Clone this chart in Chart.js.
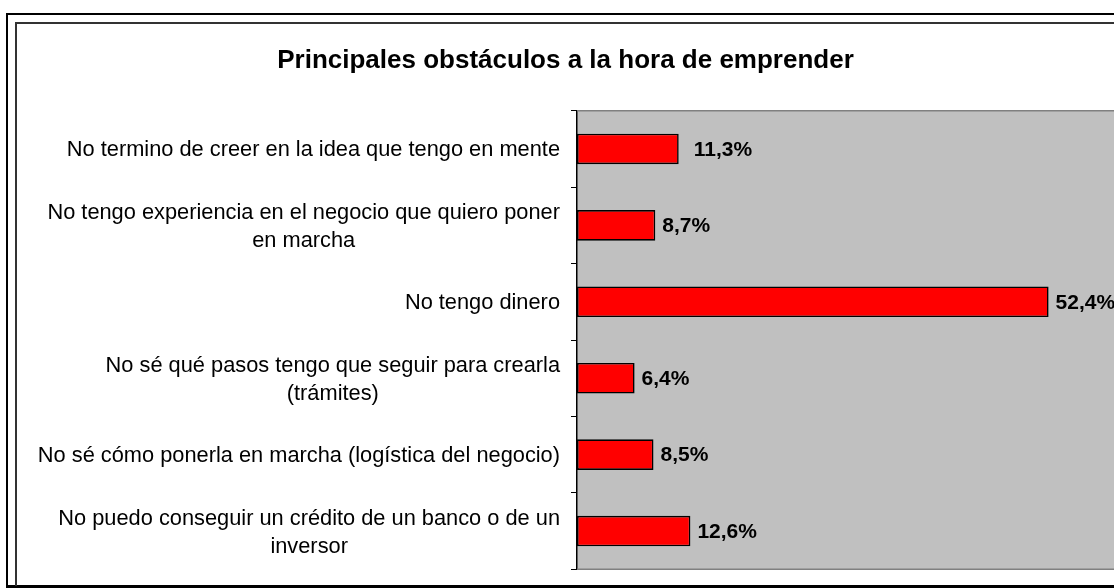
<!DOCTYPE html>
<html>
<head>
<meta charset="utf-8">
<script src="https://cdn.jsdelivr.net/npm/chart.js@4/dist/chart.umd.min.js"></script>
<style>
html,body{margin:0;padding:0;overflow:hidden;background:#fff;width:1114px;height:588px}
#wrap{position:absolute;left:0;top:0;width:1117px;height:588px}
</style>
</head>
<body>
<div id="wrap"><canvas id="c" width="1117" height="588"></canvas></div>
<script>
// ---- data ----
const titleText = 'Principales obstáculos a la hora de emprender';
const categories = [
  ['No termino de creer en la idea que tengo en mente'],
  ['No tengo experiencia en el negocio que quiero poner', 'en marcha'],
  ['No tengo dinero'],
  ['No sé qué pasos tengo que seguir para crearla', '(trámites)'],
  ['No sé cómo ponerla en marcha (logística del negocio)'],
  ['No puedo conseguir un crédito de un banco o de un', 'inversor']
];
const values = [11.3, 8.7, 52.4, 6.4, 8.5, 12.6];
const valueLabels = ['11,3%', '8,7%', '52,4%', '6,4%', '8,5%', '12,6%'];
const xMin = 0, xMax = 60;

// ---- style ----
const FONT = '"Liberation Sans", Arial, sans-serif';
const labelGap = [15, 7, 7, 7, 7, 7];

const decor = {
  id: 'decor',
  beforeDraw(chart) {
    const {ctx, chartArea: a} = chart;
    ctx.save();
    ctx.fillStyle = '#fff';
    ctx.fillRect(0, 0, chart.width, chart.height);
    ctx.fillStyle = '#C0C0C0';
    ctx.fillRect(a.left, a.top, a.right - a.left, a.bottom - a.top);
    ctx.restore();
  },
  afterDatasetsDraw(chart) {
    const {ctx, chartArea: a} = chart;
    ctx.save();
    ctx.strokeStyle = '#808080';
    ctx.lineWidth = 1.5;
    ctx.beginPath();
    ctx.moveTo(a.left, a.top); ctx.lineTo(a.right, a.top);
    ctx.moveTo(a.left, a.bottom); ctx.lineTo(a.right, a.bottom);
    ctx.stroke();
    ctx.restore();
  },
  afterDraw(chart) {
    const {ctx} = chart;
    const ys = chart.scales.y, xs = chart.scales.x;
    const meta = chart.getDatasetMeta(0);
    ctx.save();
    // category labels
    ctx.fillStyle = '#000';
    ctx.font = '21.8px ' + FONT;
    ctx.textBaseline = 'middle';
    ctx.textAlign = 'center';
    const lh = 28;
    const rightEdge = ys.right - 17;
    categories.forEach((lines, i) => {
      const cy = ys.getPixelForValue(i) + 1.5;
      const w = Math.max(...lines.map(l => ctx.measureText(l).width));
      const cx = rightEdge - w / 2;
      const y0 = cy - (lines.length - 1) * lh / 2;
      lines.forEach((l, k) => ctx.fillText(l, cx, y0 + k * lh));
    });
    // value labels
    ctx.font = 'bold 21px ' + FONT;
    ctx.textAlign = 'left';
    meta.data.forEach((bar, i) => {
      ctx.fillText(valueLabels[i], xs.getPixelForValue(values[i]) + labelGap[i], bar.y + 1);
    });
    // frames
    ctx.strokeStyle = '#000';
    ctx.lineWidth = 2;
    ctx.beginPath();
    ctx.moveTo(7, 588); ctx.lineTo(7, 14); ctx.lineTo(chart.width, 14);
    ctx.stroke();
    ctx.lineWidth = 3;
    ctx.beginPath();
    ctx.moveTo(6, 586.5); ctx.lineTo(chart.width, 586.5);
    ctx.stroke();
    ctx.strokeStyle = '#333';
    ctx.lineWidth = 2;
    ctx.beginPath();
    ctx.moveTo(16, 586); ctx.lineTo(16, 23); ctx.lineTo(chart.width, 23);
    ctx.stroke();
    ctx.restore();
  }
};

new Chart(document.getElementById('c'), {
  type: 'bar',
  data: {
    labels: categories,
    datasets: [{
      data: values,
      backgroundColor: '#FF0000',
      borderColor: '#000000',
      borderWidth: 1.6,
      borderSkipped: false,
      barPercentage: 0.4,
      categoryPercentage: 1.0
    }]
  },
  options: {
    indexAxis: 'y',
    responsive: false,
    animation: false,
    devicePixelRatio: 1,
    layout: {padding: {left: 14, right: 0, top: 0, bottom: 18.7}},
    plugins: {
      legend: {display: false},
      tooltip: {enabled: false},
      title: {
        display: true,
        text: titleText,
        color: '#000',
        font: {family: FONT, size: 26, weight: 'bold'},
        padding: {top: 45, bottom: 34.5}
      }
    },
    scales: {
      x: {display: false, min: xMin, max: xMax},
      y: {
        type: 'category',
        offset: true,
        grid: {display: true, drawOnChartArea: false, drawTicks: true, tickLength: 6, color: '#000', lineWidth: 1, offset: true},
        border: {display: true, color: '#000', width: 1.5},
        ticks: {display: false},
        afterFit(s) { s.width = 563; }
      }
    }
  },
  plugins: [decor]
});
</script>
</body>
</html>
